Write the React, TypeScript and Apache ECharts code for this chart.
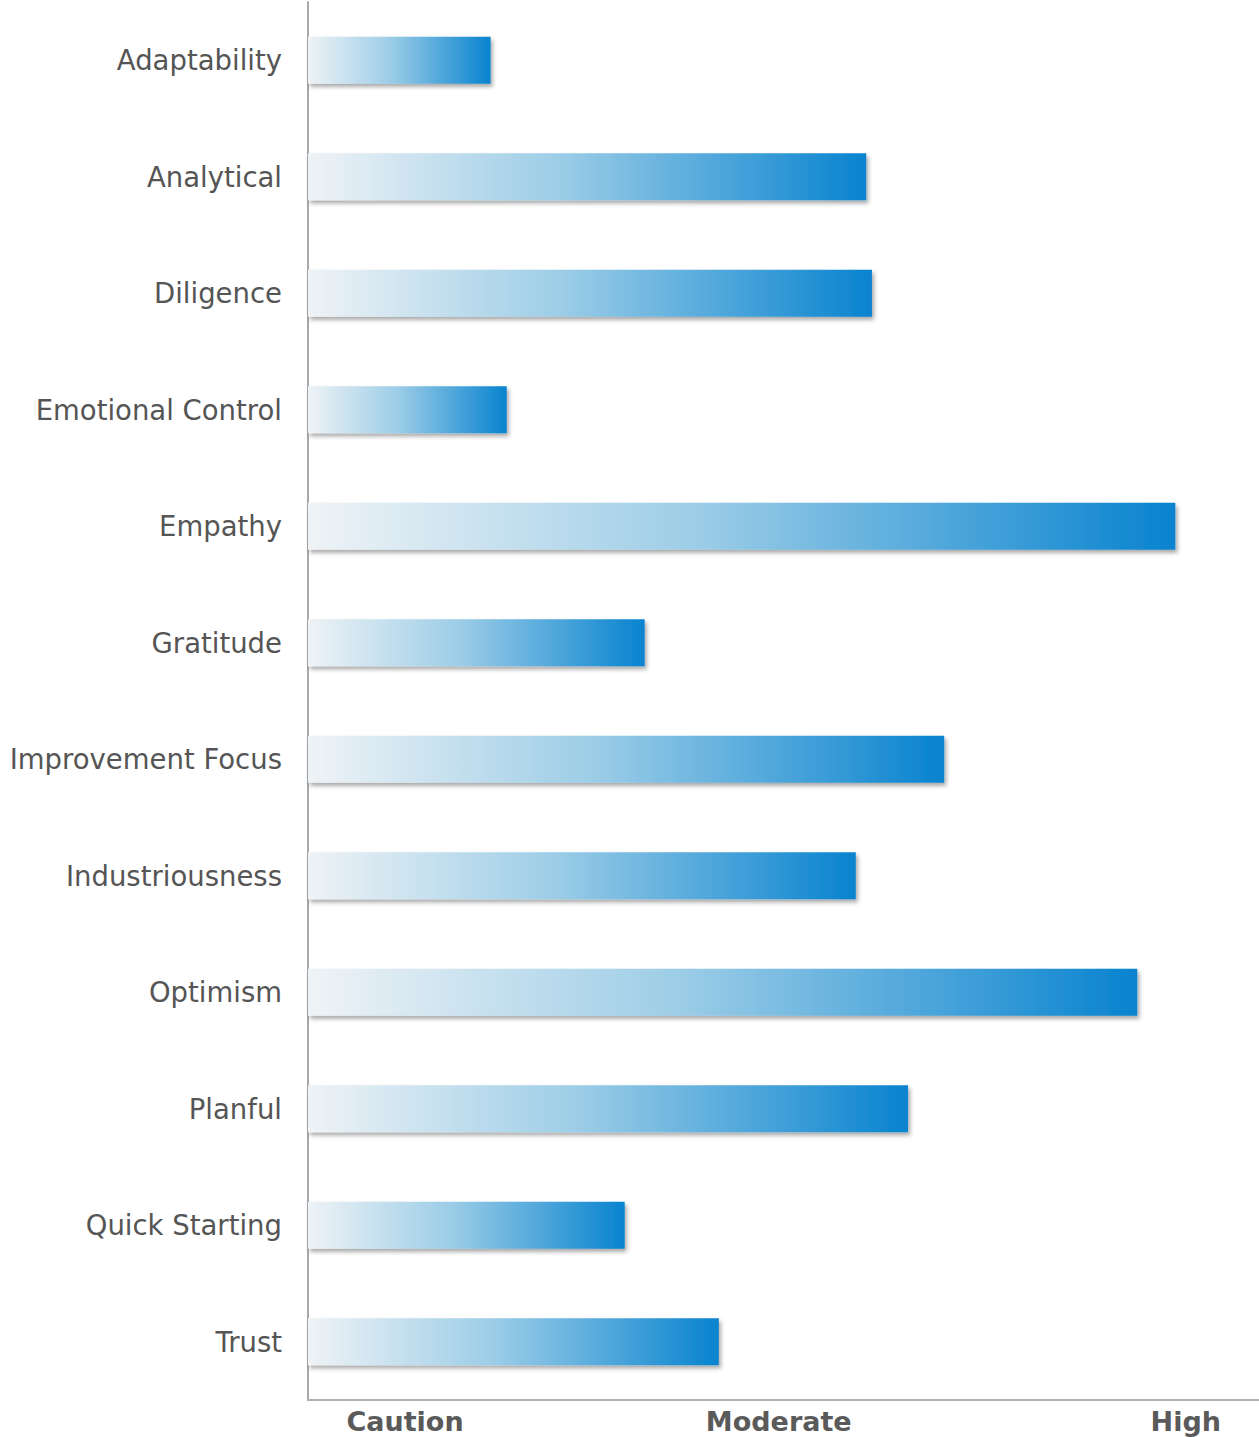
import React, { useEffect, useRef } from "react";
import * as echarts from "echarts";

const categories = [
  "Adaptability",
  "Analytical",
  "Diligence",
  "Emotional Control",
  "Empathy",
  "Gratitude",
  "Improvement Focus",
  "Industriousness",
  "Optimism",
  "Planful",
  "Quick Starting",
  "Trust",
];

const scores = [19.2, 58.7, 59.3, 20.9, 91.2, 35.4, 66.9, 57.6, 87.2, 63.1, 33.3, 43.2];

const levelLabels = ["Caution", "Moderate", "High"];
const levelPositions = [10.2, 49.5, 92.3];

export default function App() {
  const ref = useRef<HTMLDivElement>(null);
  useEffect(() => {
    if (!ref.current) return;
    const chart = echarts.init(ref.current, null, { renderer: "svg" });
    const gradient = new echarts.graphic.LinearGradient(0, 0, 1, 0, [
      { offset: 0, color: "#eff3f6" },
      { offset: 0.45, color: "#9ccde7" },
      { offset: 1, color: "#0883cf" },
    ]);
    chart.setOption({
      animation: false,
      backgroundColor: "#ffffff",
      grid: { left: 308, right: 0, top: 2, bottom: 37, containLabel: false },
      xAxis: {
        type: "value",
        min: 0,
        max: 100,
        splitLine: { show: false },
        axisTick: { show: false },
        axisLine: { show: true, lineStyle: { color: "#b0b0b0", width: 2 } },
        axisLabel: {
          customValues: levelPositions,
          formatter: (v: number) => {
            const i = levelPositions.indexOf(v);
            return i >= 0 ? levelLabels[i] : "";
          },
          color: "#5a5a5a",
          fontFamily: "DejaVu Sans",
          fontWeight: "bold",
          fontSize: 27,
          margin: 8,
        },
      },
      yAxis: {
        type: "category",
        data: categories,
        inverse: true,
        axisTick: { show: false },
        axisLine: { show: true, lineStyle: { color: "#a8a8a8", width: 2 } },
        axisLabel: {
          color: "#555555",
          fontFamily: "DejaVu Sans",
          fontSize: 27.5,
          margin: 26,
        },
      },
      series: [
        {
          type: "bar",
          data: scores,
          barWidth: 47,
          itemStyle: {
            color: gradient,
            shadowColor: "rgba(0,0,0,0.35)",
            shadowBlur: 4,
            shadowOffsetX: 2,
            shadowOffsetY: 3,
          },
        },
      ],
    });
    return () => chart.dispose();
  }, []);
  return (
    <div
      ref={ref}
      style={{ position: "absolute", left: 0, top: 0, width: 1259, height: 1437 }}
    />
  );
}
